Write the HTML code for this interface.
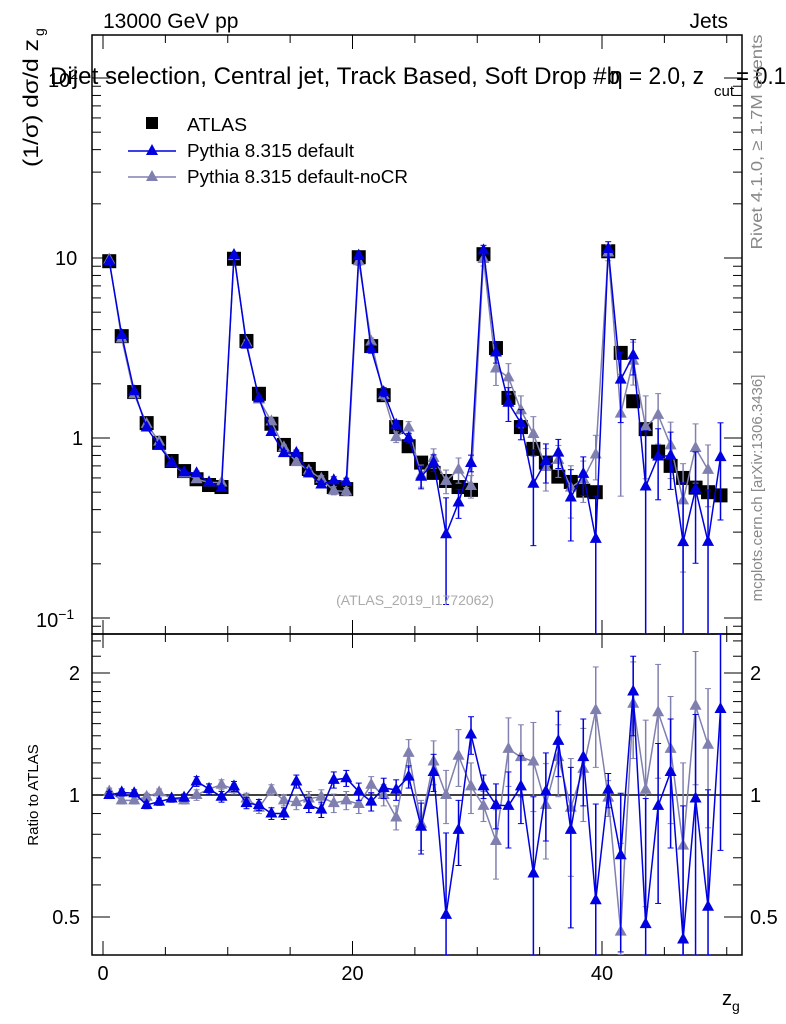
<!DOCTYPE html>
<html><head><meta charset="utf-8"><style>
html,body{margin:0;padding:0;background:#fff;overflow:hidden;width:786px;height:1024px}
svg{display:block}
svg text{font-family:"Liberation Sans",sans-serif}
</style></head><body>
<svg id="c" width="786" height="1024" xmlns="http://www.w3.org/2000/svg">
<rect x="0" y="0" width="786" height="1024" fill="#fff"/>
<g id="main"></g>
<text x="103" y="28" font-size="21">13000 GeV pp</text>
<text x="728" y="28" font-size="21" text-anchor="end">Jets</text>
<text x="50" y="84" font-size="24" textLength="570" lengthAdjust="spacingAndGlyphs">Dijet selection, Central jet, Track Based, Soft Drop #b</text>
<text x="610" y="84" font-size="24" textLength="94" lengthAdjust="spacingAndGlyphs">η = 2.0, z</text>
<text x="714" y="96" font-size="15">cut</text>
<text x="736" y="84" font-size="24" textLength="50" lengthAdjust="spacingAndGlyphs">= 0.1</text>
<text transform="translate(38,167) rotate(-90)" font-size="21" textLength="128" lengthAdjust="spacingAndGlyphs">(1/σ) dσ/d z</text>
<text transform="translate(44,36) rotate(-90)" font-size="14">g</text>
<text transform="translate(38,795) rotate(-90)" font-size="15" text-anchor="middle">Ratio to ATLAS</text>
<text x="722" y="1005" font-size="20">z<tspan font-size="14" dy="6">g</tspan></text>
<text transform="translate(762,142) rotate(-90)" font-size="16" fill="#888" text-anchor="middle" textLength="215" lengthAdjust="spacingAndGlyphs">Rivet 4.1.0, ≥ 1.7M events</text>
<text transform="translate(762,488) rotate(-90)" font-size="15" fill="#888" text-anchor="middle">mcplots.cern.ch [arXiv:1306.3436]</text>
<text x="415" y="605" font-size="14" fill="#aaa" text-anchor="middle">(ATLAS_2019_I1772062)</text>
<g>
<rect x="146" y="117" width="12" height="12" fill="#000"/>
<text x="187" y="131" font-size="18" textLength="60" lengthAdjust="spacingAndGlyphs">ATLAS</text>
<line x1="128" y1="151" x2="176" y2="151" stroke="#0000e0" stroke-width="1.5"/>
<polygon points="152,144 158,155 146,155" fill="#0000e0"/>
<text x="187" y="157" font-size="18" textLength="167" lengthAdjust="spacingAndGlyphs">Pythia 8.315 default</text>
<line x1="128" y1="177" x2="176" y2="177" stroke="#8080b0" stroke-width="1.5"/>
<polygon points="152,170 158,181 146,181" fill="#8080b0"/>
<text x="187" y="183" font-size="18" textLength="221" lengthAdjust="spacingAndGlyphs">Pythia 8.315 default-noCR</text>
</g>
</svg>
<script>
const atlas=[9.6,3.68,1.8,1.21,0.94,0.745,0.655,0.59,0.548,0.534,
9.9,3.46,1.76,1.2,0.915,0.765,0.673,0.6,0.534,0.52,
10.1,3.24,1.73,1.15,0.9,0.73,0.64,0.577,0.534,0.515,
10.5,3.16,1.67,1.15,0.87,0.73,0.61,0.57,0.51,0.5,
10.9,2.97,1.6,1.12,0.84,0.70,0.6,0.53,0.5,0.48];
const ratioDefault=[1.0,1.015,1.01,0.945,0.963,0.98,0.985,1.08,1.035,0.99,
1.05,0.955,0.945,0.9,0.9,1.08,0.945,0.92,1.09,1.1,
1.02,0.963,1.04,1.03,1.11,0.835,1.14,0.506,0.82,1.41,
1.05,0.945,0.94,1.05,0.64,1.02,1.36,0.82,1.24,0.55,
1.03,0.71,1.8,0.48,0.94,1.14,0.44,0.98,0.53,1.63];
const ratioNoCR=[1.02,0.97,0.97,0.99,1.015,0.98,0.97,1.0,1.035,1.06,
1.035,0.98,0.93,1.03,0.97,0.96,0.98,0.99,0.955,0.97,
0.95,1.06,1.0,0.88,1.27,0.85,1.21,1.0,1.25,1.05,
0.94,0.77,1.3,1.24,1.21,0.945,1.24,0.93,1.16,1.62,
0.985,0.46,1.68,1.03,1.6,1.3,0.75,1.66,1.33,null];
const errDefault=[0.02,0.02,0.02,0.02,0.02,0.02,0.02,0.03,0.03,0.03,
0.03,0.03,0.03,0.03,0.03,0.04,0.04,0.04,0.05,0.05,
0.05,0.05,0.06,0.06,0.07,0.12,0.12,0.3,0.15,0.15,
0.07,0.12,0.2,0.2,0.35,0.25,0.25,0.35,0.3,0.4,
0.1,0.3,0.4,0.5,0.4,0.4,0.5,0.6,0.5,0.9];
const errNoCR=[0.02,0.02,0.02,0.02,0.02,0.02,0.02,0.03,0.03,0.03,
0.03,0.03,0.03,0.03,0.03,0.04,0.04,0.04,0.05,0.05,
0.05,0.05,0.06,0.06,0.1,0.12,0.15,0.15,0.2,0.15,
0.08,0.15,0.25,0.25,0.3,0.25,0.25,0.3,0.3,0.45,
0.1,0.3,0.45,0.5,0.5,0.45,0.45,0.6,0.5,0.6];
const xTicks=[0,20,40];
const ratioTicks=[0.5,1,2];

const NS='http://www.w3.org/2000/svg';
const g=document.getElementById('main');
function el(t,a,p){const e=document.createElementNS(NS,t);for(const k in a)e.setAttribute(k,a[k]);(p||g).appendChild(e);return e;}
const X0=92,X1=742,MT=35,MB=634,RB=955;
const xs=v=>103+12.475*v;
const ym=v=>438-180*Math.log10(v);
const yr=v=>795-122*Math.log2(v);
const cen=i=>i+0.5;
const clamp=(y,a,b)=>Math.max(a,Math.min(b,y));

let f=el('rect',{x:X0,y:MT,width:X1-X0,height:MB-MT,fill:'none',stroke:'#000','stroke-width':1.5});


f=el('rect',{x:X0,y:MB,width:X1-X0,height:RB-MB,fill:'none',stroke:'#000','stroke-width':1.5});



for(let v=0;v<=50;v+=5){const major=v%20===0;const L=major?14:8;
 for(const [yb,yt] of [[MB,MT],[RB,MB]]){
  el('line',{x1:xs(v),x2:xs(v),y1:yb,y2:yb-L,stroke:'#000'});
  el('line',{x1:xs(v),x2:xs(v),y1:yt,y2:yt+L,stroke:'#000'});}}
xTicks.forEach(v=>{const t=el('text',{x:xs(v),y:980,'font-size':20,'text-anchor':'middle'});t.textContent=v;

});

for(let d=-2;d<=2;d++)for(let m=1;m<10;m++){const v=m*Math.pow(10,d);const y=ym(v);if(y<MT||y>MB)continue;const L=m===1?18:9;
 el('line',{x1:X0,x2:X0+L,y1:y,y2:y,stroke:'#000'});el('line',{x1:X1,x2:X1-L,y1:y,y2:y,stroke:'#000'});}
[['10',10,55],['1',1,72]].forEach(([s,v,x])=>{const t=el('text',{x:x,y:ym(v)+7,'font-size':20});t.textContent=s;

});
let t1=el('text',{x:36,y:ym(0.1)+9,'font-size':20});t1.innerHTML='10<tspan font-size="14" dy="-8">−1</tspan>';


let t2=el('text',{x:48,y:ym(100)+9,'font-size':20});t2.innerHTML='10<tspan font-size="14" dy="-8">2</tspan>';



[0.4,0.5,0.6,0.7,0.8,0.9,1,1.1,1.2,1.3,1.4,1.5,1.6,1.7,1.8,1.9,2,2.2,2.4].forEach(v=>{const y=yr(v);if(y<MB||y>RB)return;const L=(ratioTicks.includes(v))?18:9;
 el('line',{x1:X0,x2:X0+L,y1:y,y2:y,stroke:'#000'});el('line',{x1:X1,x2:X1-L,y1:y,y2:y,stroke:'#000'});});
ratioTicks.forEach(v=>{for(const [x,a] of [[80,'end'],[750,'start']]){const t=el('text',{x:x,y:yr(v)+7,'font-size':20,'text-anchor':a});t.textContent=v;

}});
el('line',{x1:X0,x2:X1,y1:yr(1),y2:yr(1),stroke:'#000','stroke-width':1.5});

function clipRect(id,y0,y1){const d=el('clipPath',{id:id});el('rect',{x:X0,y:y0,width:X1-X0,height:y1-y0},d);}
clipRect('cm',MT,MB);clipRect('cr',MB,RB);
const gm=el('g',{'clip-path':'url(#cm)'});const gr=el('g',{'clip-path':'url(#cr)'});

function tri(p,x,y,c,name){const t=el('polygon',{points:`${x},${y-7} ${x+6},${y+4} ${x-6},${y+4}`,fill:c},p);

}
function series(ratio,err,c,name){
 let pm=[],pr=[];
 ratio.forEach((r,i)=>{if(r==null)return;const x=xs(cen(i));const v=r*atlas[i];pm.push(x+','+ym(v));pr.push(x+','+yr(r));});
 let l=el('polyline',{points:pm.join(' '),fill:'none',stroke:c,'stroke-width':1.5},gm);
 
 
 l=el('polyline',{points:pr.join(' '),fill:'none',stroke:c,'stroke-width':1.5},gr);
 
 
 ratio.forEach((r,i)=>{if(r==null)return;const x=xs(cen(i));const e=err[i];
  const lo=Math.max(r-e,0.01),hi=r+e;
  for(const [p,fn] of [[gm,v=>clamp(ym(v*atlas[i]),MT,MB)],[gr,v=>clamp(yr(v),MB,RB)]]){
   el('line',{x1:x,x2:x,y1:fn(lo),y2:fn(hi),stroke:c,'stroke-width':1.5},p);
   el('line',{x1:x-3,x2:x+3,y1:fn(lo),y2:fn(lo),stroke:c},p);
   el('line',{x1:x-3,x2:x+3,y1:fn(hi),y2:fn(hi),stroke:c},p);}
  tri(gm,x,ym(r*atlas[i]),c,name+'-point');tri(gr,x,yr(r),c,name+'-ratio-point');});
}
atlas.forEach((v,i)=>{const r=el('rect',{x:xs(cen(i))-7,y:ym(v)-7,width:14,height:14,fill:'#000'},gm);

});
series(ratioNoCR,errNoCR,'#8080b0','nocr');
series(ratioDefault,errDefault,'#0000e0','default');
</script>
</body></html>
